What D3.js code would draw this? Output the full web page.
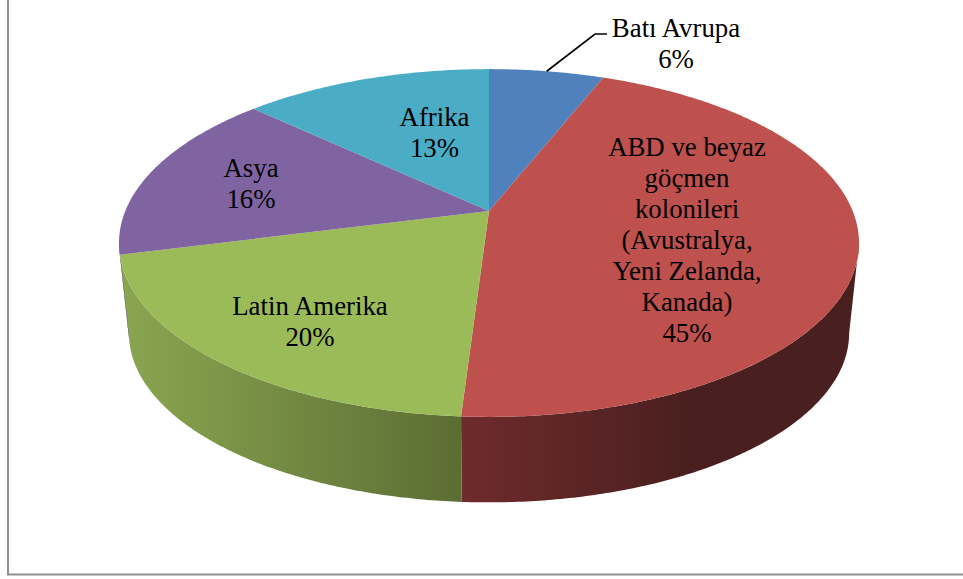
<!DOCTYPE html>
<html>
<head>
<meta charset="utf-8">
<script src="https://cdnjs.cloudflare.com/ajax/libs/d3/7.8.5/d3.min.js"></script>
<style>
  html, body { margin: 0; padding: 0; background: #fff; overflow: hidden; }
  text { font-family: "Liberation Serif", serif; font-size: 26.8px; fill: #000; text-anchor: middle; }
</style>
</head>
<body>
<div id="chart"></div>
<script>
const regions = ["Batı Avrupa", "ABD ve beyaz göçmen kolonileri (Avustralya, Yeni Zelanda, Kanada)", "Latin Amerika", "Asya", "Afrika"];
const shares = [6, 45, 20, 16, 13];
const colors = ["#4f81bd", "#be504d", "#9bbb59", "#8064a2", "#4bacc6"];
const labelLines = [
  ["Batı Avrupa"],
  ["ABD ve beyaz", "göçmen", "kolonileri", "(Avustralya,", "Yeni Zelanda,", "Kanada)"],
  ["Latin Amerika"],
  ["Asya"],
  ["Afrika"]
];

const svgWidth = 963;
const svgHeight = 579;

const svg = d3.select("#chart")
  .append("svg")
  .attr("width", svgWidth)
  .attr("height", svgHeight);

// frame
svg.append("path")
  .attr("d", "M8,-2V574.5H970")
  .attr("fill", "none")
  .attr("stroke", "#8f8f8f")
  .attr("stroke-width", 2);

// the tilted disc: unit circle -> screen, k is the perspective term
const k = 0.184;
const topDisc = { cx: 489, cy: 211, a: 168, b: 363.7 };
const bottomDisc = { cx: 489, cy: 302, a: 163.5, b: 354 };

function project(disc, angle) {
  const u = Math.sin(angle), v = Math.cos(angle);
  const d = 1 + k * v;
  return [disc.cx + disc.b * u / d, disc.cy - disc.a * v / d];
}

function arcPoints(disc, a0, a1) {
  const n = Math.max(2, Math.ceil(Math.abs(a1 - a0) / 0.01));
  return d3.range(n + 1).map(i => project(disc, a0 + (a1 - a0) * i / n));
}

const slices = d3.pie().sort(null)(shares);
const line = d3.line();

// side wall only shows on the near half of the disc
const wallStart = Math.acos(-k);
const wallEnd = 2 * Math.PI - wallStart;

const wallShades = [
  null,
  ["#6f2b2c", "#4a1f1f"],
  ["#8aa650", "#5c6d34"],
  ["#5f4a7a", "#5f4a7a"],
  null
];

const defs = svg.append("defs");

slices.forEach((s, i) => {
  const a0 = Math.max(s.startAngle, wallStart);
  const a1 = Math.min(s.endAngle, wallEnd);
  if (a1 <= a0 || !wallShades[i]) return;

  const topEdge = arcPoints(topDisc, a0, a1);
  const bottomEdge = arcPoints(bottomDisc, a1, a0);
  const xs = topEdge.concat(bottomEdge).map(p => p[0]);

  // both walls get darker to the right, red reaches its darkest early
  const grad = defs.append("linearGradient")
    .attr("id", `wall${i}`)
    .attr("gradientUnits", "userSpaceOnUse")
    .attr("x1", d3.min(xs)).attr("x2", i === 1 ? d3.min(xs) + 230 : d3.max(xs))
    .attr("y1", 0).attr("y2", 0);
  grad.append("stop").attr("offset", 0).attr("stop-color", wallShades[i][0]);
  grad.append("stop").attr("offset", 1).attr("stop-color", wallShades[i][1]);

  svg.append("path")
    .attr("d", line(topEdge.concat(bottomEdge)) + "Z")
    .attr("fill", `url(#wall${i})`);
});

// top face
svg.selectAll(".slice")
  .data(slices)
  .enter()
  .append("path")
  .attr("class", "slice")
  .attr("d", d => line([[topDisc.cx, topDisc.cy]].concat(arcPoints(topDisc, d.startAngle, d.endAngle))) + "Z")
  .attr("fill", (d, i) => colors[i]);

// leader for the first label
const labelPos = [
  [676, 37],
  [687, 156],
  [310, 315],
  [251, 177],
  [434.5, 126]
];
const lineGap = 31;

const leaderStart = project(topDisc, slices[0].endAngle * 0.5);
svg.append("path")
  .attr("d", line([leaderStart, [595, 34], [607, 34]]))
  .attr("fill", "none")
  .attr("stroke", "#000")
  .attr("stroke-width", 1.7);

labelLines.forEach((lines, i) => {
  const t = svg.append("text").attr("aria-label", regions[i]);
  lines.concat(`${shares[i]}%`).forEach((txt, j) => {
    t.append("tspan")
      .attr("x", labelPos[i][0])
      .attr("y", labelPos[i][1] + j * lineGap)
      .text(txt);
  });
});
</script>
</body>
</html>
